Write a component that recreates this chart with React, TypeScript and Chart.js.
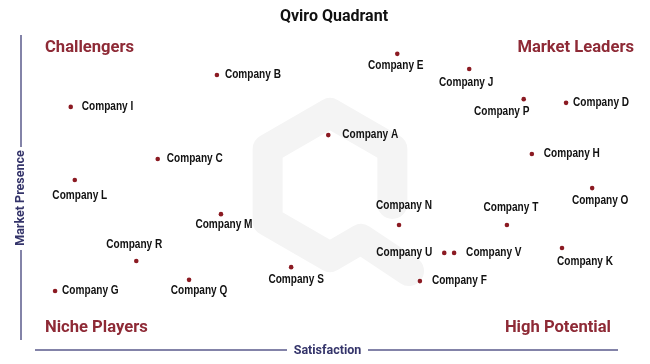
import React, { useEffect, useRef } from "react";
import { Chart, registerables } from "chart.js";

Chart.register(...registerables);

const companies = [
  "Company E", "Company J", "Company B", "Company I", "Company P", "Company D",
  "Company A", "Company H", "Company C", "Company L", "Company O", "Company M",
  "Company N", "Company T", "Company R", "Company U", "Company V", "Company K",
  "Company S", "Company Q", "Company F", "Company G",
];
const satisfaction = [61.6, 74.0, 30.5, 5.3, 83.4, 90.7, 49.7, 84.8, 20.3, 6.0, 95.2, 31.2,
  61.9, 80.5, 16.6, 69.7, 71.4, 90.0, 43.3, 25.7, 65.5, 2.6];
const marketPresence = [92.3, 87.4, 85.5, 75.2, 77.7, 76.5, 66.1, 60.0, 58.4, 51.6, 49.0, 40.6,
  37.1, 37.1, 25.5, 28.1, 28.1, 29.7, 23.5, 19.4, 19.0, 15.8];

const quadrantNames = ["Challengers", "Market Leaders", "Niche Players", "High Potential"];
const titleText = "Qviro Quadrant";
const xAxisTitle = "Satisfaction";
const yAxisTitle = "Market Presence";

// label placement (styling): [align, dx, dy]
const labelPlacement: Record<string, [CanvasTextAlign, number, number]> = {
  "Company E": ["center", -1.5, 12],
  "Company J": ["center", -3, 14],
  "Company B": ["left", 8, 0],
  "Company I": ["left", 11, 0],
  "Company P": ["center", -22, 13],
  "Company D": ["left", 7, 0],
  "Company A": ["left", 14, 0],
  "Company H": ["left", 12, 0],
  "Company C": ["left", 9, 0],
  "Company L": ["center", 5, 16],
  "Company O": ["center", 8, 13],
  "Company M": ["center", 3, 11],
  "Company N": ["center", 5, -19],
  "Company T": ["center", 4, -17],
  "Company R": ["center", -2, -16],
  "Company U": ["right", -12, 0],
  "Company V": ["left", 12, 0],
  "Company K": ["center", 23, 14],
  "Company S": ["center", 5, 13],
  "Company Q": ["center", 10, 11],
  "Company F": ["left", 12, 0],
  "Company G": ["left", 7, 0],
};

const RED = "#8e2a36";
const NAVY = "#34346a";
const LINE = "#5b5b8c";
const LABEL_FONT = "bold 12px 'Liberation Sans', Arial, sans-serif";
const LABEL_SCALE_X = 0.84;
const HEAD_FONT = "bold 16.6px Roboto, sans-serif";

const decorPlugin = {
  id: "decor",
  beforeDatasetsDraw(chart: any) {
    const { ctx, chartArea } = chart;
    const cx = (chartArea.left + chartArea.right) / 2;
    const cy = (chartArea.top + chartArea.bottom) / 2;
    const R = 72;
    const h = R * Math.cos(Math.PI / 6);
    ctx.save();
    ctx.strokeStyle = "#f4f4f4";
    ctx.lineWidth = 30;
    ctx.lineCap = "round";
    ctx.lineJoin = "round";
    ctx.beginPath();
    ctx.moveTo(cx + h, cy + 19);
    ctx.lineTo(cx + h, cy - R / 2);
    ctx.lineTo(cx, cy - R);
    ctx.lineTo(cx - h, cy - R / 2);
    ctx.lineTo(cx - h, cy + R / 2);
    ctx.lineTo(cx, cy + R);
    ctx.lineTo(cx + 31, cy + R - 18);
    ctx.lineTo(cx + 79, cy + R + 14);
    ctx.stroke();

    // title
    ctx.fillStyle = "#111";
    ctx.font = "bold 16px Roboto, sans-serif";
    ctx.textAlign = "center";
    ctx.textBaseline = "middle";
    ctx.fillText(titleText, 334, 17);

    // axes decorations
    ctx.strokeStyle = LINE;
    ctx.lineWidth = 1.5;
    ctx.lineCap = "butt";
    ctx.beginPath();
    ctx.moveTo(35, 350);
    ctx.lineTo(287, 350);
    ctx.moveTo(368, 350);
    ctx.lineTo(618, 350);
    ctx.moveTo(21, 35);
    ctx.lineTo(21, 147);
    ctx.moveTo(21, 250);
    ctx.lineTo(21, 340);
    ctx.stroke();
    ctx.fillStyle = NAVY;
    ctx.font = "bold 12.5px Roboto, sans-serif";
    ctx.fillText(xAxisTitle, 327.5, 350.5);
    ctx.save();
    ctx.translate(21, 198);
    ctx.rotate(-Math.PI / 2);
    ctx.fillText(yAxisTitle, 0, 0);
    ctx.restore();

    // quadrant names
    ctx.fillStyle = RED;
    ctx.font = HEAD_FONT;
    ctx.textBaseline = "alphabetic";
    ctx.textAlign = "left";
    ctx.fillText(quadrantNames[0], 45, 52);
    ctx.fillText(quadrantNames[2], 45, 332);
    ctx.textAlign = "right";
    ctx.fillText(quadrantNames[1], 634, 52);
    ctx.fillText(quadrantNames[3], 611, 332);
    ctx.restore();
  },
  afterDatasetsDraw(chart: any) {
    const { ctx } = chart;
    const meta = chart.getDatasetMeta(0);
    ctx.save();
    ctx.fillStyle = "#111";
    ctx.font = LABEL_FONT;
    ctx.textBaseline = "middle";
    meta.data.forEach((pt: any, i: number) => {
      const name = companies[i];
      const [align, dx, dy] = labelPlacement[name] || ["left", 8, 0];
      ctx.save();
      ctx.translate(pt.x + dx, pt.y + dy);
      ctx.scale(LABEL_SCALE_X, 1);
      ctx.textAlign = align;
      ctx.fillText(name, 0, 0);
      ctx.restore();
    });
    ctx.restore();
  },
};

export default function App() {
  const ref = useRef<HTMLCanvasElement>(null);
  useEffect(() => {
    document.body.style.margin = "0";
    const chart = new Chart(ref.current!, {
      type: "scatter",
      data: {
        datasets: [
          {
            label: "Companies",
            data: satisfaction.map((x, i) => ({ x, y: marketPresence[i] })),
            pointRadius: 2.3,
            pointBackgroundColor: "#8b1a22",
            pointBorderWidth: 0,
          },
        ],
      },
      options: {
        responsive: false,
        animation: false,
        layout: { padding: { left: 40, right: 30, top: 30, bottom: 24 } },
        scales: {
          x: { type: "linear", min: 0, max: 100, display: false },
          y: { type: "linear", min: 0, max: 100, display: false },
        },
        plugins: {
          legend: { display: false },
          tooltip: { enabled: false },
          title: { display: false },
        },
      },
      plugins: [decorPlugin],
    });
    return () => chart.destroy();
  }, []);
  return (
    <div style={{ width: 650, height: 364 }}>
      <canvas ref={ref} width={650} height={364} style={{ display: "block" }} />
    </div>
  );
}
